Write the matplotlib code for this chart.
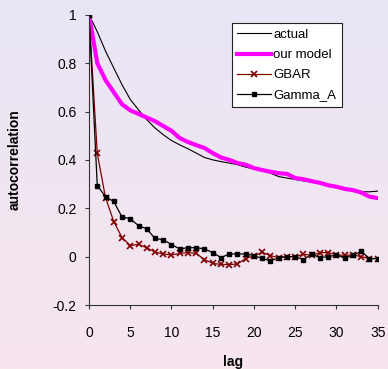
import numpy as np
import matplotlib
matplotlib.use('Agg')
import matplotlib.pyplot as plt
from matplotlib.ticker import FuncFormatter

plt.rcParams['font.family'] = ['Liberation Sans', 'DejaVu Sans']

lags = list(range(36))

actual = [1.0, 0.93, 0.85, 0.78, 0.711, 0.65, 0.607, 0.566, 0.532, 0.504,
          0.48, 0.462, 0.446, 0.428, 0.41, 0.40, 0.393, 0.387, 0.38, 0.37,
          0.362, 0.355, 0.345, 0.331, 0.325, 0.319, 0.313, 0.309, 0.304, 0.297,
          0.29, 0.283, 0.276, 0.268, 0.268, 0.271]

our_model = [1.0, 0.80, 0.73, 0.68, 0.63, 0.605, 0.59, 0.575, 0.56, 0.54,
             0.52, 0.49, 0.474, 0.461, 0.449, 0.428, 0.41, 0.40, 0.387, 0.38,
             0.366, 0.358, 0.351, 0.345, 0.342, 0.325, 0.32, 0.312, 0.305, 0.295,
             0.289, 0.28, 0.275, 0.265, 0.248, 0.242]

gbar = [1.0, 0.427, 0.244, 0.145, 0.079, 0.046, 0.051, 0.036, 0.019, 0.011,
        0.007, 0.013, 0.017, 0.013, -0.012, -0.028, -0.032, -0.033, -0.03, -0.008,
        0.004, 0.018, 0.004, -0.004, 0.0, 0.0, 0.01, 0.006, 0.016, 0.017,
        0.007, 0.006, 0.007, 0.0, -0.008, -0.008]

gamma_a = [1.0, 0.294, 0.248, 0.228, 0.164, 0.157, 0.128, 0.115, 0.075, 0.070,
           0.050, 0.032, 0.037, 0.037, 0.032, 0.017, -0.004, 0.011, 0.011, 0.011,
           0.004, -0.007, -0.018, -0.004, 0.0, 0.0, -0.012, 0.010, -0.004, 0.0,
           0.006, -0.004, 0.006, 0.022, -0.008, -0.008]

fig = plt.figure(figsize=(3.88, 3.69), dpi=100)

# gradient background (lavender top -> pink bottom)
bg = fig.add_axes([0, 0, 1, 1], zorder=-1)
top = np.array([233, 229, 245]) / 255
bot = np.array([247, 230, 238]) / 255
t = np.linspace(0, 1, 256)[:, None]
grad = (top * (1 - t) + bot * t)[:, None, :]
bg.imshow(grad, aspect='auto', extent=[0, 1, 0, 1])
bg.set_axis_off()

ax = fig.add_axes([0.2294, 0.1734, 0.7441, 0.7866])
ax.patch.set_alpha(0)

ax.plot(lags, actual, color='black', lw=0.8, label='actual')
ax.plot(lags, our_model, color='#FF00FF', lw=3, label='our model')
ax.plot(lags, gbar, color='#800000', lw=0.9, marker='x', ms=5, mew=1.2,
        label='GBAR')
ax.plot(lags, gamma_a, color='black', lw=0.9, marker='s', ms=3.5,
        label='Gamma_A')

ax.set_xlim(0, 35)
ax.set_ylim(-0.2, 1.0)
ax.set_xticks(range(0, 36, 5))
ax.set_yticks([-0.2, 0, 0.2, 0.4, 0.6, 0.8, 1.0])
ax.yaxis.set_major_formatter(FuncFormatter(lambda v, p: '%g' % round(v, 2)))
for s in ['top', 'right']:
    ax.spines[s].set_visible(False)
for s in ['left', 'bottom']:
    ax.spines[s].set_color('#333333')
    ax.spines[s].set_linewidth(0.8)
ax.tick_params(direction='out', length=3, width=0.8, color='#333333',
               labelsize=10)
ax.tick_params(axis='y', pad=6)
ax.tick_params(axis='x', pad=12)
ax.set_xlabel('lag', fontsize=10, fontweight='bold', labelpad=11)
ax.set_ylabel('autocorrelation', fontsize=10, fontweight='bold', labelpad=22)

leg = ax.legend(loc='upper right', bbox_to_anchor=(0.875, 0.97), fontsize=9.5,
                frameon=True, fancybox=False, edgecolor='#222222',
                handlelength=2.6, handletextpad=0.15, borderpad=0.4,
                labelspacing=0.6, borderaxespad=0)
leg.get_frame().set_linewidth(0.8)
leg.get_frame().set_facecolor('white')
leg.get_frame().set_alpha(1)

fig.savefig('out.png', dpi=100)
